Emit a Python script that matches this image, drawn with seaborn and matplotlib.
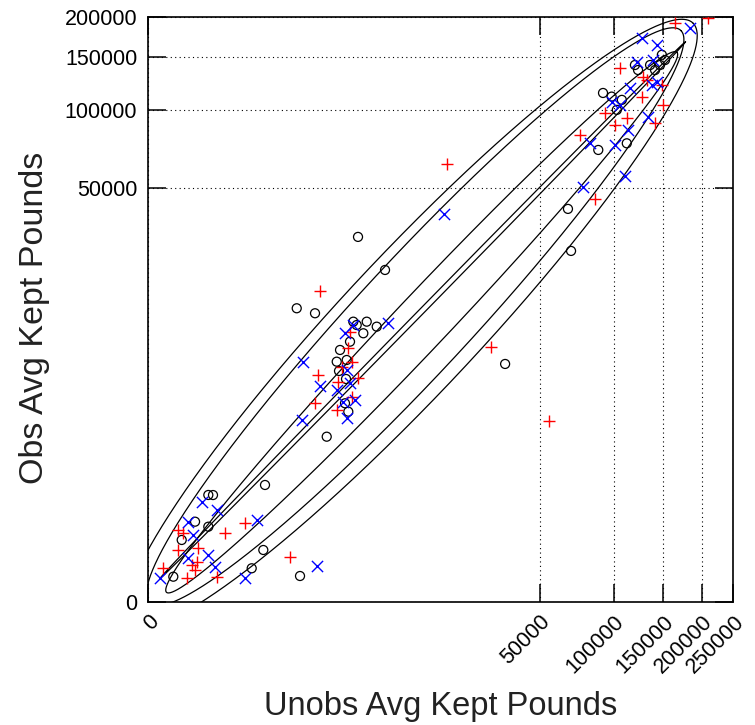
import numpy as np
import pandas as pd
import matplotlib
matplotlib.use("Agg")
import matplotlib.pyplot as plt
import seaborn as sns

# ---------------- data (pounds) ----------------
black_x = [148470, 152180, 146380, 140770, 119700, 122800, 91260, 98370, 107330, 102870,
           87520, 111890, 66210, 68180, 135330, 34600, 4129, 6703, 1036, 1649,
           3770, 4858, 5811, 4563, 4027, 3534, 2884, 2690, 3308, 3196,
           3416, 2163, 396, 3262, 2824, 27.7, 37.4, 10.2, 27.7, 2.66,
           0.835, 244, 373.5, 1131]
black_y = [152780, 147000, 141670, 136460, 141670, 136460, 114380, 111160, 108300, 99920,
           71120, 75400, 40650, 25850, 141670, 5455, 30240, 20680, 12660, 11820,
           10500, 10500, 9771, 8866, 10007, 7807, 6857, 5668, 5830, 2647,
           2226, 1266, 317, 4202, 4840, 221.5, 221, 70, 54, 24.8,
           0.667, 2.128, 12.2, 0.745]

red_x = [164400, 210000, 105690, 127880, 131700, 148470, 126530, 150310, 92910, 101310,
         111890, 140770, 74130, 85040, 17000, 29450, 55050, 1856, 3534, 3416,
         2988, 1783, 2783, 4153, 3654, 1649, 2690, 3677, 186.8, 73.9,
         1.73, 3.2, 1.73, 13.3, 7.6, 11.7, 10.2, 46.7, 0.108, 4.64, 861]
red_y = [191160, 197900, 138200, 129760, 126530, 121740, 111160, 104010, 97230, 88210,
         93330, 89530, 81070, 44940, 62720, 7190, 1822, 15920, 9078, 7044,
         5210, 4513, 4002, 4256, 3017, 2647, 2307, 5640, 64.5, 37.4,
         45.2, 37.4, 12.2, 13.9, 3.1, 4.37, 1.72, 0.667, 2.13, 0.51, 6.64]

blue_x = [183950, 126530, 142520, 121520, 138460, 142520, 137050, 114860, 98370, 105690,
          113160, 133080, 81170, 101310, 76290, 110220, 16310, 7083, 3770, 3196,
          1233, 3308, 1856, 2690, 3534, 3897, 3087, 3308, 1183, 17.4,
          46.7, 5.5, 8.75, 294.9, 5.5, 27.7, 42.3, 0.04, 186.8, 1717]
blue_y = [184650, 172150, 164200, 145160, 147000, 124900, 121740, 118680, 106860, 104010,
          84510, 94430, 75400, 74310, 50490, 56120, 38650, 10360, 10007, 8866,
          5668, 4924, 3698, 3432, 3887, 2827, 2734, 1933, 1862, 170.8,
          120.8, 70, 33.8, 76.1, 6.06, 8.12, 2.56, 0.51, 0.51, 2.78]

# ellipses in fourth-root space: centre, semi-axes, angle (deg)
ell_cu = [10.5, 10.45, 10.2, 10.05]
ell_cv = [10.55, 10.1, 10.3, 10.05]
ell_a = [13.95, 13.8, 14.5, 15.3]
ell_b = [0.10, 1.0, 2.1, 2.55]
ell_ang = [44.0, 45.0, 45.5, 45.2]

x_ticks = [0, 50000, 100000, 150000, 200000, 250000]
y_ticks = [0, 50000, 100000, 150000, 200000]
x_label = "Unobs Avg Kept Pounds"
y_label = "Obs Avg Kept Pounds"

# ---------------- plotting ----------------
sns.set_style("ticks")
plt.rcParams['font.family'] = ['Liberation Sans', 'DejaVu Sans']
plt.rcParams['xtick.direction'] = 'in'
plt.rcParams['ytick.direction'] = 'in'


def fwd(x):
    x = np.asarray(x, dtype=float)
    return np.sign(x) * np.abs(x) ** 0.25


def inv(u):
    u = np.asarray(u, dtype=float)
    return np.sign(u) * np.abs(u) ** 4


fig = plt.figure(figsize=(7.55, 7.25), dpi=100)
fig.patch.set_facecolor("white")
ax = fig.add_axes([148.3 / 755, (725 - 601.7) / 725, 585 / 755, 585 / 725])
ax.set_xscale('function', functions=(fwd, inv))
ax.set_yscale('function', functions=(fwd, inv))

# ellipses
t = np.linspace(0, 2 * np.pi, 1441)
for cu, cv, a, b, ang in zip(ell_cu, ell_cv, ell_a, ell_b, ell_ang):
    th = np.deg2rad(ang)
    eu = cu + a * np.cos(t) * np.cos(th) - b * np.sin(t) * np.sin(th)
    ev = cv + a * np.cos(t) * np.sin(th) + b * np.sin(t) * np.cos(th)
    sns.lineplot(x=inv(eu), y=inv(ev), sort=False, estimator=None, color="black",
                 linewidth=0.9, ax=ax)

df_b = pd.DataFrame({"x": black_x, "y": black_y})
df_r = pd.DataFrame({"x": red_x, "y": red_y})
df_u = pd.DataFrame({"x": blue_x, "y": blue_y})

sns.scatterplot(data=df_b, x="x", y="y", marker="o", s=42, facecolors="none",
                edgecolor="black", linewidth=0.9, ax=ax, zorder=3)
sns.scatterplot(data=df_r, x="x", y="y", marker="+", s=75, color="#ff0000",
                linewidth=1.0, ax=ax, zorder=4)
sns.scatterplot(data=df_u, x="x", y="y", marker="x", s=65, color="#0000ff",
                linewidth=1.0, ax=ax, zorder=5)

ax.set_xlim(0, 250000)
ax.set_ylim(0, 200000)
ax.set_xticks(x_ticks, [str(v) for v in x_ticks])
ax.set_yticks(y_ticks, [str(v) for v in y_ticks])
ax.minorticks_off()

for lab in ax.get_xticklabels():
    lab.set_rotation(45)
    lab.set_ha("right")
    lab.set_va("top")
    lab.set_rotation_mode("anchor")

ax.grid(True, color="black", linestyle=(0, (1, 3)), linewidth=0.8, zorder=0.5)
ax.tick_params(axis="both", which="major", direction="in", length=13, width=1.1,
               color="black", bottom=True, left=True, top=True, right=True,
               labelbottom=True, labelleft=True, labeltop=False, labelright=False,
               labelsize=15.5, labelcolor="black")
ax.tick_params(axis="x", pad=7)
ax.tick_params(axis="y", pad=8)
for sp in ax.spines.values():
    sp.set_visible(True)
    sp.set_color("black")
    sp.set_linewidth(1.2)

ax.set_xlabel(x_label, fontsize=23.5, color="#222222")
ax.set_ylabel(y_label, fontsize=24.5, color="#222222")
ax.xaxis.set_label_coords(0.5, (601.7 - 706) / 585)
ax.xaxis.label.set_va("center")
ax.yaxis.set_label_coords((35 - 148.3) / 585, (601.7 - 318) / 585)
ax.yaxis.label.set_va("center")

fig.savefig("out.png", dpi=100, facecolor="white")
